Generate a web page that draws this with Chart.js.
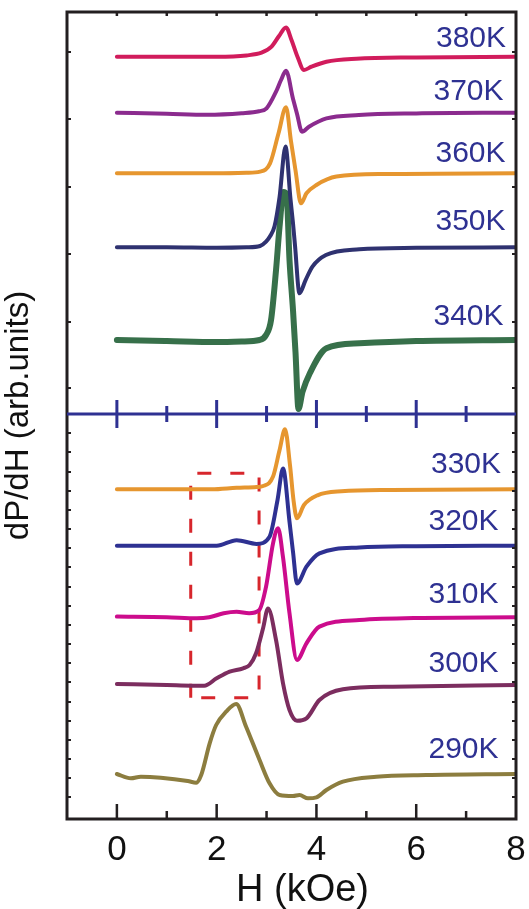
<!DOCTYPE html>
<html>
<head>
<meta charset="utf-8">
<script src="https://cdn.jsdelivr.net/npm/chart.js@4.4.1/dist/chart.umd.min.js"></script>
<style>
    html, body { margin: 0; padding: 0; background: #ffffff; }
    #wrap { width: 529px; height: 909px; position: relative; }
</style>
</head>
<body>
<div id="wrap"><canvas id="epr"></canvas></div>
<script>
// EPR spectra, dP/dH (arb. units) vs H (kOe), stacked with vertical offsets
const temperatures = ["380K", "370K", "360K", "350K", "340K", "330K", "320K", "310K", "300K", "290K"];
const offsets = [762.3, 706.3, 645.7, 571.7, 479, 329.7, 273.3, 201.7, 135, 45];

const h380 = [0, 1, 2, 2.6, 2.9, 3.1, 3.25, 3.39, 3.5, 3.62, 3.75, 3.9, 4.2, 4.8, 6, 8];
const d380 = [0, 0, 0, 1.3, 4, 10, 20.7, 29.3, 16.7, 0, -13.3, -10, -5, -2, -0.7, 0];

const h370 = [0, 1, 1.8, 2.5, 2.85, 3.0, 3.19, 3.29, 3.39, 3.53, 3.61, 3.71, 3.85, 4.2, 4.85, 6, 8];
const d370 = [0, -1, -2, -0.5, 1.5, 4.3, 21, 32.7, 42, 14, -1, -19, -14, -5.7, -2.3, -0.7, 0];

const h360 = [0, 1, 2, 2.6, 2.87, 3.07, 3.24, 3.39, 3.49, 3.58, 3.69, 3.8, 4.0, 4.4, 5.4, 8];
const d360 = [0, 0, 0, 0.5, 1.7, 10, 40, 66, 32, 3, -30, -20, -11.7, -3.3, -0.7, 0];

const h350 = [0, 1, 2, 2.6, 2.87, 2.99, 3.07, 3.16, 3.26, 3.38, 3.48, 3.53, 3.57, 3.66, 3.78, 3.92, 4.19, 4.86, 6, 8];
const d350 = [0, 0, -0.5, 0, 1.3, 5.6, 11, 21, 50, 100.7, 48, 24, 2, -46, -33, -19.3, -7.7, -2, -0.5, 0];

const h340 = [0, 1, 2, 2.5, 2.86, 2.99, 3.09, 3.19, 3.26, 3.34, 3.4, 3.46, 3.53, 3.58, 3.64, 3.72, 3.87, 4.2, 4.86, 6, 8];
const d340 = [0, -1, -2, -1.5, 0, 5, 20, 70, 113, 148, 146, 80, 30, -12, -69, -52, -33, -8.3, -3.3, -1, 0];

const h330 = [0, 1, 1.9, 2.4, 2.8, 2.93, 3.13, 3.26, 3.37, 3.47, 3.54, 3.61, 3.75, 4.02, 4.5, 5.5, 8];
const d330 = [0, 0, 0, 1.5, 2.3, 3.3, 12.7, 39, 60, 24, -10.7, -29, -15.7, -6, -2, -0.7, 0];

const h320 = [0, 1, 2.0, 2.4, 2.8, 3.06, 3.22, 3.33, 3.46, 3.53, 3.61, 3.8, 4.06, 4.86, 6, 8];
const d320 = [0, 0, 0, 5.5, 1.8, 9, 45.7, 77.3, 24, -6, -37.7, -21, -7.7, -1.7, -0.5, 0];

const h310 = [0, 1, 1.6, 1.85, 2.14, 2.4, 2.65, 2.85, 2.99, 3.13, 3.23, 3.33, 3.46, 3.61, 3.8, 4.06, 4.86, 6, 8];
const d310 = [0.7, 0, -1, 0, 4, 5.5, 4, 7, 30.7, 74, 89, 60, 4, -42.7, -26, -9.3, -2.7, -0.7, 0];

const h300 = [0, 1, 1.5, 1.75, 2.0, 2.26, 2.53, 2.66, 2.79, 2.93, 3.03, 3.19, 3.33, 3.46, 3.61, 3.8, 4.06, 4.53, 5.53, 8];
const d300 = [0, -1, -1.7, -1.7, 5.7, 12.3, 15.7, 19, 30.7, 55.7, 75.5, 44, 0.7, -26, -36.7, -34.3, -16, -5.3, -2.7, -1];

const h290 = [0, 0.28, 0.48, 0.88, 1.42, 1.59, 1.69, 1.86, 1.99, 2.19, 2.39, 2.59, 2.86, 3.06, 3.26, 3.53, 3.66, 3.83, 4.0, 4.2, 4.53, 5.2, 6.2, 8];
const d290 = [0, -4.3, -2.7, -3.7, -7, -8.7, -1, 30.7, 49, 62.3, 70, 47.3, 14, -9.3, -21, -22, -21, -24.3, -23.3, -16, -7.7, -2.7, -1, 0];

// dashed region marking the low-field shoulder
const boxH = [1.48, 1.48, 2.85, 2.85, 1.48];
const boxY = [121.3, 345.7, 345.7, 121.3, 121.3];

const xTickLabels = [0, 2, 4, 6, 8];
const xMinorTicks = [1, 3, 5, 7];
const panelSplit = 405;
const yTicksTop = [767, 700, 632, 565, 497, 431];
const yTicksBottom = [386, 367, 347, 328, 309, 290, 271, 252, 232, 213, 194, 175, 156, 137, 117, 98, 79, 60, 41, 22];

// label anchors (right edge, baseline)
const labelX = [7.8, 7.75, 7.79, 7.79, 7.75, 7.7, 7.65, 7.65, 7.65, 7.65];
const labelY = [772, 719, 657, 589, 494, 346, 289, 216, 147, 61];

const series = [
    [h380, d380], [h370, d370], [h360, d360], [h350, d350], [h340, d340],
    [h330, d330], [h320, d320], [h310, d310], [h300, d300], [h290, d290]
];
const lineColors = ["#d11c5c", "#8b2b8e", "#e6962f", "#2f3270", "#37704a", "#e6962f", "#2e3192", "#cc0c8c", "#7c2d5f", "#8c7d3f"];
const lineWidths = [4, 4, 4, 4, 6, 4, 4, 4, 4, 4];

const FONT = '"Liberation Sans", Arial, Helvetica, sans-serif';
const frameColor = "#231f20";
const navy = "#2e3192";

const datasets = temperatures.map((t, i) => ({
    label: t,
    data: series[i][0].map((h, j) => ({ x: h, y: offsets[i] + series[i][1][j] })),
    borderColor: lineColors[i],
    borderWidth: lineWidths[i],
    borderCapStyle: "round",
    borderJoinStyle: "round",
    cubicInterpolationMode: "monotone",
    pointRadius: 0,
    fill: false
}));

datasets.push({
    label: "box",
    data: boxH.map((h, j) => ({ x: h, y: boxY[j] })),
    borderColor: "#d7262c",
    borderWidth: 3,
    borderDash: [14, 19],
    tension: 0,
    pointRadius: 0,
    fill: false
});

const decorations = {
    id: "decorations",
    afterDatasetsDraw(chart) {
        const { ctx, chartArea: a, scales: { x, y } } = chart;
        ctx.save();

        // frame
        ctx.strokeStyle = frameColor;
        ctx.lineWidth = 3;
        ctx.lineJoin = "miter";
        ctx.strokeRect(a.left, a.top, a.right - a.left, a.bottom - a.top);

        // inward ticks on bottom and top
        ctx.lineWidth = 2.5;
        ctx.beginPath();
        xTickLabels.concat(xMinorTicks).forEach((v) => {
            if (v >= x.max) return;
            const px = x.getPixelForValue(v);
            const len = xTickLabels.includes(v) ? 15 : 8;
            ctx.moveTo(px, a.bottom);
            ctx.lineTo(px, a.bottom - len);
            ctx.moveTo(px, a.top);
            ctx.lineTo(px, a.top + 4);
        });
        ctx.stroke();

        // inward ticks on left and right
        ctx.lineWidth = 2;
        ctx.beginPath();
        yTicksTop.concat(yTicksBottom).forEach((v) => {
            const py = y.getPixelForValue(v);
            ctx.moveTo(a.left, py);
            ctx.lineTo(a.left + 4, py);
            ctx.moveTo(a.right, py);
            ctx.lineTo(a.right - 4, py);
        });
        ctx.stroke();

        // panel separator axis
        const ym = y.getPixelForValue(panelSplit);
        ctx.strokeStyle = navy;
        ctx.lineWidth = 3;
        ctx.beginPath();
        ctx.moveTo(a.left, ym);
        ctx.lineTo(a.right, ym);
        xTickLabels.concat(xMinorTicks).forEach((v) => {
            if (v >= x.max) return;
            const px = x.getPixelForValue(v);
            const len = xTickLabels.includes(v) ? 14 : 8;
            ctx.moveTo(px, ym - len);
            ctx.lineTo(px, ym + len);
        });
        ctx.stroke();

        // temperature labels
        ctx.fillStyle = navy;
        ctx.font = "30px " + FONT;
        ctx.textAlign = "right";
        ctx.textBaseline = "alphabetic";
        temperatures.forEach((t, i) => {
            ctx.fillText(t, x.getPixelForValue(labelX[i]), y.getPixelForValue(labelY[i]));
        });

        // axis titles
        ctx.fillStyle = "#111111";
        ctx.textAlign = "center";
        ctx.font = "38px " + FONT;
        ctx.fillText("H (kOe)", (a.left + a.right) / 2 + 11, 901);

        ctx.translate(19, (a.top + a.bottom) / 2);
        ctx.rotate(-Math.PI / 2);
        ctx.font = "33px " + FONT;
        ctx.textBaseline = "middle";
        ctx.fillText("dP/dH (arb.units)", 0, 0);

        ctx.restore();
    }
};

new Chart(document.getElementById("epr"), {
    type: "line",
    data: { datasets },
    options: {
        responsive: true,
        maintainAspectRatio: false,
        animation: false,
        events: [],
        layout: {
            padding: { top: 12, right: 13, bottom: 0, left: 0 }
        },
        plugins: {
            legend: { display: false },
            tooltip: { enabled: false }
        },
        scales: {
            x: {
                type: "linear",
                min: -1,
                max: 8,
                border: { display: false },
                grid: { display: false, drawTicks: false },
                ticks: {
                    stepSize: 1,
                    autoSkip: false,
                    maxRotation: 0,
                    padding: 10,
                    color: "#111111",
                    font: { family: FONT, size: 35 },
                    callback: (v) => (xTickLabels.includes(v) ? String(v) : "")
                },
                afterFit: (scale) => {
                    scale.height = 90;
                    scale.paddingLeft = 0;
                    scale.paddingRight = 0;
                }
            },
            y: {
                type: "linear",
                min: 0,
                max: 807,
                border: { display: false },
                grid: { display: false, drawTicks: false },
                ticks: { display: false },
                afterFit: (scale) => { scale.width = 67; }
            }
        }
    },
    plugins: [decorations]
});
</script>
</body>
</html>
